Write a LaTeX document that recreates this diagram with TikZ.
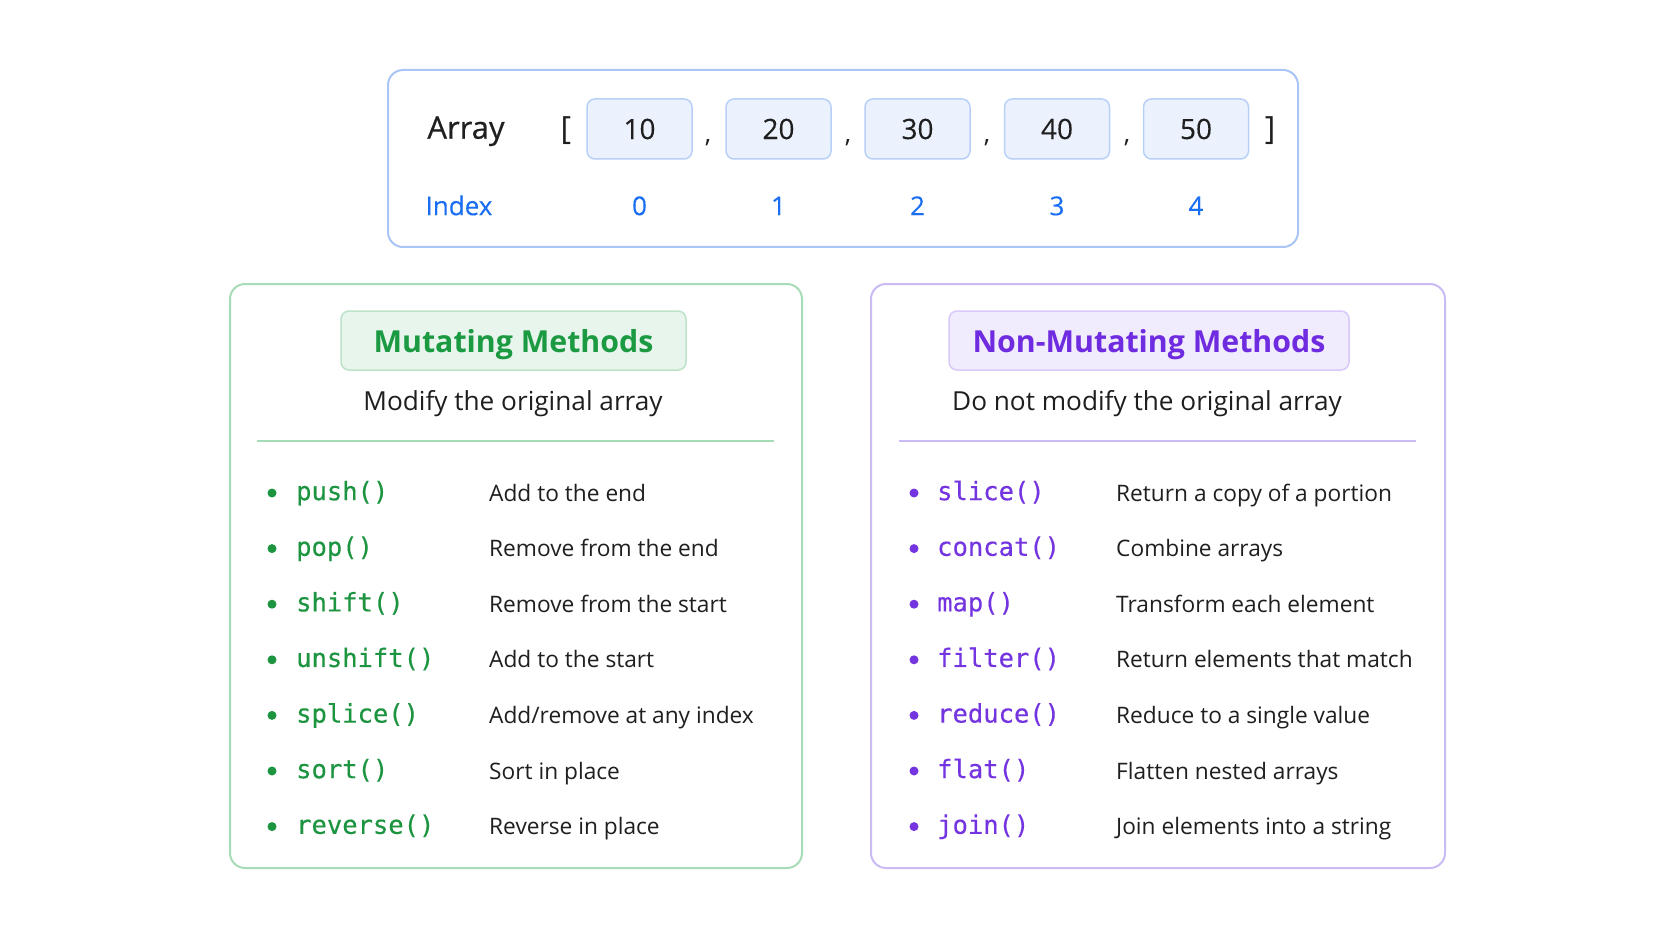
\documentclass[tikz,border=0pt]{standalone}
\usepackage{fontspec}
\setmainfont{Open Sans}
\newfontfamily\codefont[FakeBold=0.35]{DejaVu Sans Mono}
\newfontfamily\medfont[FakeBold=0.6]{Open Sans}
\newfontfamily\numfont[FakeBold=0.2]{Open Sans}
\definecolor{topborder}{HTML}{A9C5F6}
\definecolor{cellfill}{HTML}{EBF2FE}
\definecolor{cellborder}{HTML}{B9D0F8}
\definecolor{idxblue}{HTML}{1A6EF2}
\definecolor{gborder}{HTML}{A6DDB7}
\definecolor{gfill}{HTML}{E7F5EC}
\definecolor{gpillborder}{HTML}{BCE3C8}
\definecolor{gtext}{HTML}{1B9A42}
\definecolor{gcode}{HTML}{1C9440}
\definecolor{pborder}{HTML}{CBBBF4}
\definecolor{pfill}{HTML}{F1EBFE}
\definecolor{ppillborder}{HTML}{D8C9F8}
\definecolor{ptext}{HTML}{6F2BDF}
\definecolor{pcode}{HTML}{7435E0}
\definecolor{txt}{HTML}{1F1F1F}
\tikzset{
  frame/.style={draw, line width=2pt, rounded corners=15pt, fill=white, inner sep=0pt},
  cell/.style={draw=cellborder, fill=cellfill, line width=1.5pt, rounded corners=8pt,
    minimum width=105pt, minimum height=60pt, inner sep=0pt, text=txt,
    font=\numfont\fontsize{28}{32}\selectfont},
  idx/.style={text=idxblue, font=\numfont\fontsize{26}{30}\selectfont, inner sep=0pt},
  comma/.style={text=txt, font=\fontsize{26}{30}\selectfont, inner sep=0pt, anchor=base},
  pill/.style={line width=1.5pt, rounded corners=8pt, inner sep=0pt, minimum height=59pt},
  title/.style={font=\bfseries\fontsize{30.3}{34}\selectfont, inner sep=0pt},
  subtitle/.style={text=txt, font=\fontsize{26.2}{30}\selectfont, inner sep=0pt},
  code/.style={font=\codefont\fontsize{25.5}{30}\selectfont, inner sep=0pt, anchor=mid west},
  desc/.style={text=txt, font=\fontsize{22.7}{27}\selectfont, inner sep=0pt, anchor=mid west},
  bulletdot/.style={circle, inner sep=0pt, minimum size=9pt},
}
\begin{document}
\begin{tikzpicture}[x=1pt,y=-1pt]
\useasboundingbox[fill=white] (0,0) rectangle (1672,941);
% top array box
\node[frame, draw=topborder, minimum width=910pt, minimum height=177pt] (arraybox) at (843,158.5) {};
\node[anchor=mid, text=txt, inner sep=0pt, font=\medfont\fontsize{31}{36}\selectfont] (arraylbl) at (466,136) {Array};
\node[text=txt, inner sep=0pt, font=\fontsize{32}{36}\selectfont] (lbr) at (566,131) {[};
\node[text=txt, inner sep=0pt, font=\fontsize{32}{36}\selectfont] (rbr) at (1270,131) {]};
\foreach \v/\x/\i in {10/639.5/0, 20/778.5/1, 30/917.5/2, 40/1057/3, 50/1196/4}{
  \node[cell] (c\i) at (\x,129) {\v};
  \node[idx, anchor=mid] (i\i) at (\x,212.5) {\i};
}
\node[comma] (k1) at (708,143) {,};
\node[comma] (k2) at (848,143) {,};
\node[comma] (k3) at (987,143) {,};
\node[comma] (k4) at (1127,143) {,};
\node[idx, anchor=mid] (idxlbl) at (459,212.5) {Index};
% panels
\node[frame, draw=gborder, minimum width=572pt, minimum height=584pt] (left) at (516,576) {};
\node[frame, draw=pborder, minimum width=574pt, minimum height=584pt] (right) at (1158,576) {};
\node[pill, draw=gpillborder, fill=gfill, minimum width=345pt] (gpill) at (513.5,340.5) {};
\node[title, text=gtext] (gtitle) at (513.5,344.5) {Mutating Methods};
\node[pill, draw=ppillborder, fill=pfill, minimum width=400pt] (ppill) at (1149,340.5) {};
\node[title, text=ptext] (ptitle) at (1149,344.5) {Non-Mutating Methods};
\node[subtitle] (gsub) at (513,404) {Modify the original array};
\node[subtitle] (psub) at (1147,404) {Do not modify the original array};
\draw[gborder, line width=1.5pt] (257,441) -- (774,441);
\draw[pborder, line width=1.5pt] (899,441) -- (1416,441);
% lists
\foreach \c/\d [count=\n from 0] in {push()/Add to the end, pop()/Remove from the end, shift()/Remove from the start, unshift()/Add to the start, splice()/Add\slash remove at any index, sort()/Sort in place, reverse()/Reverse in place}{
  \pgfmathsetmacro\yy{491+55.6*\n}
  \node[bulletdot, fill=gcode] (gb\n) at (272,\yy+2) {};
  \node[code, text=gcode] (gc\n) at (296,\yy+6.5) {\c};
  \node[desc] (gd\n) at (489,\yy+7.5) {\d};
}
\foreach \c/\d [count=\n from 0] in {slice()/Return a copy of a portion, concat()/Combine arrays, map()/Transform each element, filter()/Return elements that match, reduce()/Reduce to a single value, flat()/Flatten nested arrays, join()/Join elements into a string}{
  \pgfmathsetmacro\yy{491+55.6*\n}
  \node[bulletdot, fill=pcode] (pb\n) at (914,\yy+2) {};
  \node[code, text=pcode] (pc\n) at (937,\yy+6.5) {\c};
  \node[desc] (pd\n) at (1116,\yy+7.5) {\d};
}
\end{tikzpicture}
\end{document}
